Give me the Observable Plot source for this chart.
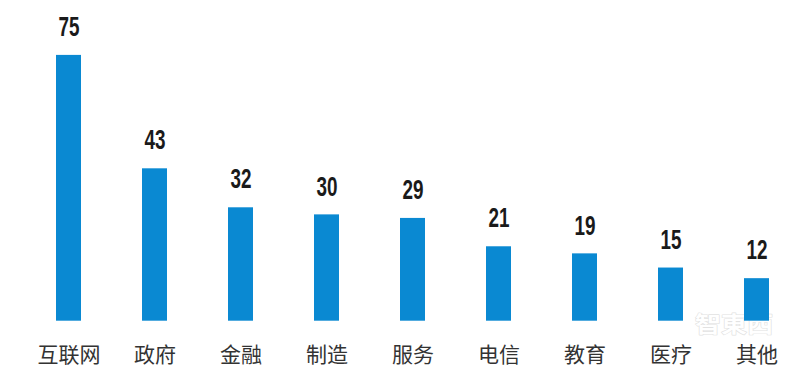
<!DOCTYPE html>
<html>
<head>
<meta charset="utf-8">
<script src="https://cdn.jsdelivr.net/npm/d3@7"></script>
<script src="https://cdn.jsdelivr.net/npm/@observablehq/plot@0.6"></script>
<style>
  html, body { margin: 0; padding: 0; background: #fff; }
  #chart svg { display: block; }
</style>
</head>
<body>
<div id="chart"></div>
<script>
const categories = ["互联网", "政府", "金融", "制造", "服务", "电信", "教育", "医疗", "其他"];
const values = [75, 43, 32, 30, 29, 21, 19, 15, 12];
const watermark = ["智東西"];

const data = categories.map((c, i) => ({category: c, value: values[i]}));

const chart = Plot.plot({
  width: 800,
  height: 377,
  margin: 0,
  style: {background: "#fff"},
  x: {domain: categories, range: [-7.4, 832.9], padding: 0.714, axis: null},
  y: {domain: [0, 75], range: [320.7, 54.9], axis: null},
  marks: [
    Plot.text(watermark, {
      x: () => "其他", y: () => 0, text: d => d,
      dx: -23, dy: 4, lineAnchor: "middle",
      fontFamily: "'Noto Sans CJK TC', sans-serif",
      fontSize: 20, fontWeight: "bold", fill: "#fff", stroke: "#e2e2e2", strokeWidth: 1.1,
      className: "wmark"
    }),
    Plot.barY(data, {x: "category", y: "value", fill: "#0a89d2"}),
    Plot.text(data, {
      x: "category", y: "value", text: d => String(d.value),
      dy: -28, lineAnchor: "middle",
      fontFamily: "'Liberation Sans', Arial, sans-serif",
      fontWeight: "bold", fontSize: 27, fill: "#1a1a1a",
      className: "vlabel"
    }),
    Plot.text(data, {
      x: "category", y: () => 0, text: "category",
      dy: 34, lineAnchor: "middle",
      fontFamily: "'Noto Sans CJK SC', sans-serif",
      fontSize: 21, fill: "#333"
    })
  ]
});
// condense the value labels horizontally, like the reference's narrow numerals
d3.select(chart).selectAll("g.vlabel text").each(function() {
  const t = this.getAttribute("transform") || "";
  this.setAttribute("transform", t + " scale(0.7,1)");
});
d3.select(chart).selectAll("g.wmark text").each(function() {
  const t = this.getAttribute("transform") || "";
  this.setAttribute("transform", t + " scale(1.3,1.1)");
});
document.getElementById("chart").append(chart);
</script>
</body>
</html>
